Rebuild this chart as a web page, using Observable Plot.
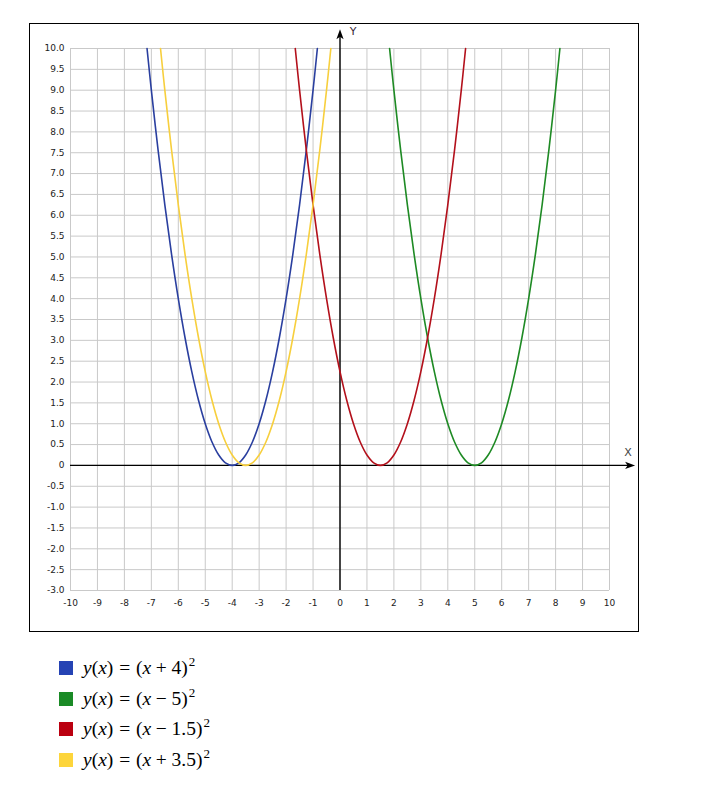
<!DOCTYPE html>
<html><head><meta charset="utf-8">
<script src="https://cdn.jsdelivr.net/npm/d3@7"></script>
<script src="https://cdn.jsdelivr.net/npm/@observablehq/plot@0.6"></script>
<style>
body{margin:0;background:#fff;}
#page{position:relative;width:708px;height:788px;overflow:hidden;background:#fff;}
#box{position:absolute;left:29px;top:23px;width:608px;height:607px;border:1px solid #000;}
#chart{position:absolute;left:0;top:0;}
#legend{position:absolute;left:59px;top:653px;font-family:"Liberation Serif","Times New Roman",serif;font-size:19.5px;color:#000;}
.row{height:30.5px;display:flex;align-items:center;white-space:nowrap;}
.sw{width:14px;height:14px;margin-right:10px;flex:none;}
.row sup{font-size:13px;vertical-align:8px;line-height:0;margin-left:1px;}
.rel{margin:0 0.3em;}
.bin{margin:0 0.24em;}
</style></head><body>
<div id="page"><div id="box"></div><div id="chart"></div><div id="legend"></div></div>
<script>
// Tick values
const xTicks = [-10,-9,-8,-7,-6,-5,-4,-3,-2,-1,0,1,2,3,4,5,6,7,8,9,10];
const yTicks = [-3,-2.5,-2,-1.5,-1,-0.5,0,0.5,1,1.5,2,2.5,3,3.5,4,4.5,5,5.5,6,6.5,7,7.5,8,8.5,9,9.5,10];

// Series values (points on each parabola)
const blueX   = [-7.16,-7,-6.75,-6.5,-6.25,-6,-5.75,-5.5,-5.25,-5,-4.75,-4.5,-4.25,-4,-3.75,-3.5,-3.25,-3,-2.75,-2.5,-2.25,-2,-1.75,-1.5,-1.25,-1,-0.84];
const greenX  = [1.84,2,2.25,2.5,2.75,3,3.25,3.5,3.75,4,4.25,4.5,4.75,5,5.25,5.5,5.75,6,6.25,6.5,6.75,7,7.25,7.5,7.75,8,8.16];
const redX    = [-1.66,-1.5,-1.25,-1,-0.75,-0.5,-0.25,0,0.25,0.5,0.75,1,1.25,1.5,1.75,2,2.25,2.5,2.75,3,3.25,3.5,3.75,4,4.25,4.5,4.66];
const yellowX = [-6.66,-6.5,-6.25,-6,-5.75,-5.5,-5.25,-5,-4.75,-4.5,-4.25,-4,-3.75,-3.5,-3.25,-3,-2.75,-2.5,-2.25,-2,-1.75,-1.5,-1.25,-1,-0.75,-0.5,-0.34];
const curveY  = [10,9,7.5625,6.25,5.0625,4,3.0625,2.25,1.5625,1,0.5625,0.25,0.0625,0,0.0625,0.25,0.5625,1,1.5625,2.25,3.0625,4,5.0625,6.25,7.5625,9,10];

// Legend
const seriesNames = ["blue","green","red","yellow"];
const seriesColors = ["#2a3f9f","#1e8a24","#b3101b","#f7cf3d"];
const swatchColors = ["#2543b4","#1a8a26","#bb0010","#fdd53b"];
const legendOps = ["+","−","−","+"];
const legendConsts = ["4","5","1.5","3.5"];

// Axis arrow extents
const xAxisEnd = 10.95;
const yAxisEnd = 10.46;

const seriesX = [blueX, greenX, redX, yellowX];
const curves = seriesX.map((xs, i) => xs.map((x, j) => ({x, y: curveY[j], s: seriesNames[i]})));

const arrowSymbol = {
  draw(ctx) {
    ctx.moveTo(0, 0);
    ctx.lineTo(-3.6, 10);
    ctx.lineTo(0, 7.5);
    ctx.lineTo(3.6, 10);
    ctx.closePath();
  }
};

const grid = {stroke: "#c9c9c9", strokeOpacity: 1, strokeWidth: 1};

const chart = Plot.plot({
  width: 708, height: 640,
  marginLeft: 70, marginRight: 99, marginTop: 48, marginBottom: 50,
  x: {domain: [-10, 10]},
  y: {domain: [-3, 10]},
  style: {fontFamily: "'DejaVu Sans', Verdana, sans-serif", fontSize: "9px", color: "#222", background: "transparent", overflow: "visible"},
  marks: [
    Plot.gridX(xTicks, grid),
    Plot.gridY(yTicks, grid),
    Plot.axisX(xTicks, {tickSize: 0, tickPadding: 9, label: null, tickFormat: d => String(d)}),
    Plot.axisY(yTicks, {tickSize: 0, tickPadding: 6, label: null, tickFormat: d => d === 0 ? "0" : d.toFixed(1)}),
    Plot.ruleY([0], {x1: -10, x2: xAxisEnd - 0.2, stroke: "#000", strokeWidth: 1.4}),
    Plot.ruleX([0], {y1: -3, y2: yAxisEnd - 0.15, stroke: "#000", strokeWidth: 1.4}),
    Plot.dot([{x: 0, y: yAxisEnd}], {x: "x", y: "y", symbol: arrowSymbol, fill: "#000", stroke: null, rotate: 0}),
    Plot.dot([{x: xAxisEnd, y: 0}], {x: "x", y: "y", symbol: arrowSymbol, fill: "#000", stroke: null, rotate: 90}),
    Plot.text(["Y"], {x: 0, y: yAxisEnd, dx: 13, dy: 2, fontSize: 11, fill: "#3a2a3a"}),
    Plot.text(["X"], {x: xAxisEnd, y: 0, dx: -7, dy: -13, fontSize: 11, fill: "#444"}),
    ...curves.map((pts, i) => Plot.line(pts, {x: "x", y: "y", stroke: seriesColors[i], strokeWidth: 1.6, curve: "catmull-rom"}))
  ]
});
document.getElementById("chart").appendChild(chart);

const legend = document.getElementById("legend");
legendOps.forEach((op, i) => {
  const row = document.createElement("div");
  row.className = "row";
  row.innerHTML = `<div class="sw" style="background:${swatchColors[i]}"></div>` +
    `<span><i>y</i>(<i>x</i>)<span class="rel">=</span>(<i>x</i><span class="bin">${op}</span>${legendConsts[i]})<sup>2</sup></span>`;
  legend.appendChild(row);
});
</script>
</body></html>
